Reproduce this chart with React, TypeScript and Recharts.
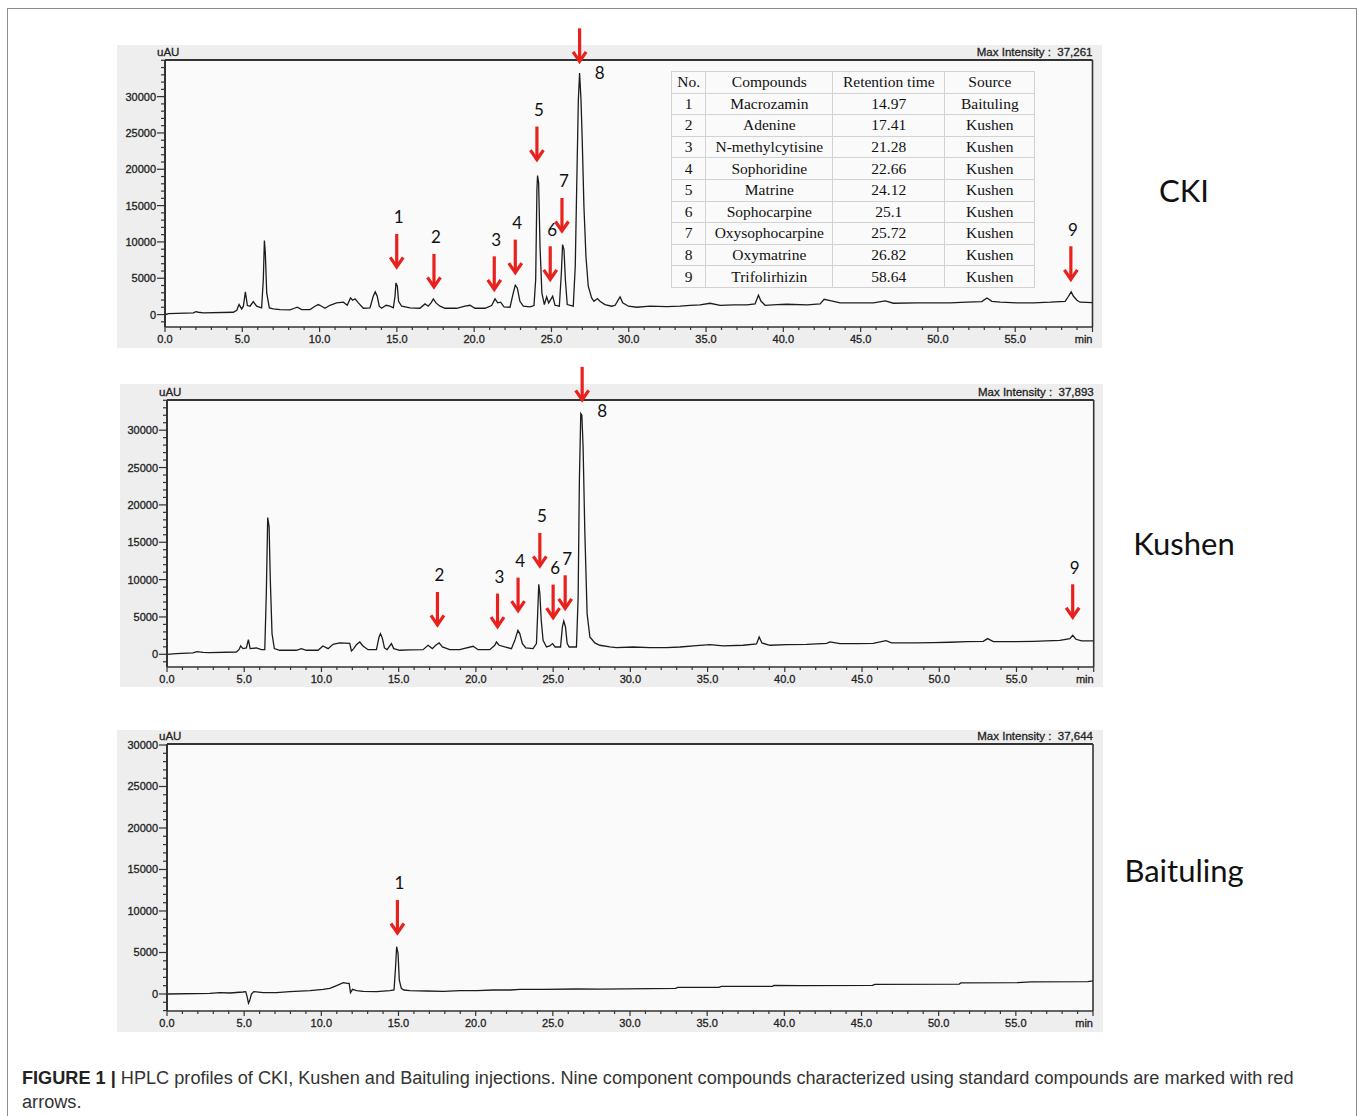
import { CartesianGrid, Line, LineChart, ReferenceDot, ReferenceLine, XAxis, YAxis } from 'recharts';

type Pt = [number, number];
type Arrow = { id: string; t: number; v: number; side?: 'right' };

// chromatogram traces, [retention time (min), intensity (uAU)]
const CKI_TRACE: Pt[] = [
  [0, -30], [0.22, 140], [1.83, 230], [2.0, 410], [2.16, 320], [2.48, 230], [4.42, 320], [4.64, 600],
  [4.79, 1380], [4.96, 780], [5.07, 1150], [5.2, 3120], [5.33, 1240], [5.5, 1150], [5.71, 1790], [5.93, 1150],
  [6.25, 920], [6.36, 4820], [6.43, 10180], [6.49, 8490], [6.58, 2980], [6.75, 920], [7.0, 780], [7.44, 690],
  [8.09, 640], [8.37, 870], [8.56, 1010], [8.84, 690], [9.38, 690], [9.7, 1150], [9.92, 1380], [10.13, 1150],
  [10.35, 870], [10.67, 1280], [11.1, 1610], [11.54, 1700], [11.79, 1280], [12.0, 2290], [12.14, 1970],
  [12.29, 2160], [12.51, 1610], [12.83, 870], [13.26, 920], [13.47, 2520], [13.6, 3120], [13.73, 2520],
  [13.86, 1150], [14.01, 870], [14.3, 1280], [14.55, 1150], [14.77, 920], [14.88, 2520], [14.94, 4360],
  [15.03, 3900], [15.11, 1830], [15.31, 1150], [15.85, 920], [16.49, 870], [16.82, 1470], [17.03, 1150],
  [17.21, 1610], [17.36, 2160], [17.53, 1610], [17.79, 1150], [18.11, 870], [18.87, 870], [19.4, 1150],
  [19.73, 1280], [20.05, 870], [20.7, 870], [21.13, 1240], [21.35, 2160], [21.52, 1610], [21.71, 1700],
  [21.93, 1060], [22.32, 1010], [22.53, 2980], [22.66, 4040], [22.79, 3670], [22.96, 1830], [23.18, 1150],
  [23.61, 1060], [23.87, 1240], [23.98, 4820], [24.06, 17200], [24.1, 19130], [24.17, 18120], [24.26, 9400],
  [24.38, 2980], [24.54, 1380], [24.69, 2430], [24.82, 1610], [24.95, 2060], [25.08, 2520], [25.23, 1280],
  [25.51, 1150], [25.64, 5730], [25.72, 9630], [25.81, 8950], [25.9, 4820], [26.02, 1380], [26.41, 1150],
  [26.54, 6650], [26.63, 17200], [26.74, 29590], [26.82, 33260], [26.91, 29590], [26.99, 24080], [27.1, 14910],
  [27.23, 8030], [27.38, 3900], [27.6, 2290], [27.75, 1830], [27.97, 2200], [28.14, 1830], [28.46, 1380],
  [28.9, 1150], [29.12, 1280], [29.33, 2060], [29.44, 2430], [29.61, 1610], [29.98, 1150], [30.52, 1010],
  [31.38, 1150], [32.46, 1100], [33.32, 1150], [33.97, 1280], [34.61, 1330], [35.26, 1560], [35.91, 1280],
  [36.77, 1330], [37.64, 1330], [38.17, 1470], [38.39, 2660], [38.56, 1830], [38.82, 1280], [39.58, 1380],
  [40.22, 1420], [41.52, 1330], [42.38, 1470], [42.64, 2110], [43.03, 1930], [43.67, 1610], [44.75, 1610],
  [45.83, 1610], [46.59, 1880], [47.12, 1560], [48.64, 1610], [49.71, 1610], [50.79, 1610], [51.87, 1700],
  [52.84, 1790], [53.17, 2290], [53.49, 1830], [54.03, 1700], [55.11, 1610], [56.19, 1610], [57.26, 1700],
  [58.23, 1830], [58.45, 2520], [58.62, 3120], [58.77, 2520], [58.99, 1970], [59.2, 1700], [60, 1650],
];

const KUSHEN_TRACE: Pt[] = [
  [0, 0], [0.6, 90], [1.68, 180], [1.94, 360], [2.33, 270], [2.76, 220], [4.49, 310], [4.66, 620],
  [4.77, 1120], [4.92, 760], [5.14, 850], [5.27, 1960], [5.38, 760], [5.79, 850], [6.11, 620], [6.33, 620],
  [6.43, 8120], [6.52, 18300], [6.61, 17050], [6.69, 9910], [6.8, 2770], [6.95, 760], [7.3, 540], [8.38, 540],
  [8.7, 760], [9.02, 540], [9.78, 540], [10.1, 1120], [10.43, 760], [10.75, 1340], [11.18, 1520], [11.83, 1470],
  [11.94, 450], [12.09, 760], [12.26, 1290], [12.48, 1650], [12.69, 1120], [13.02, 620], [13.56, 620],
  [13.73, 2320], [13.82, 2770], [13.95, 2100], [14.08, 850], [14.25, 620], [14.53, 1430], [14.68, 760],
  [15.07, 540], [15.72, 580], [16.58, 620], [16.9, 1210], [17.18, 760], [17.4, 1210], [17.62, 1520],
  [17.83, 980], [18.31, 620], [18.95, 620], [19.82, 1070], [20.14, 620], [20.9, 620], [21.22, 1210],
  [21.33, 1650], [21.5, 1210], [21.87, 980], [22.3, 760], [22.52, 1870], [22.72, 3210], [22.84, 2770],
  [23.01, 1430], [23.23, 850], [23.7, 760], [23.92, 1430], [24.0, 5450], [24.07, 9370], [24.14, 8120],
  [24.23, 4550], [24.35, 1870], [24.57, 980], [24.78, 1120], [24.96, 1430], [25.13, 980], [25.48, 980],
  [25.6, 3660], [25.69, 4460], [25.8, 3660], [25.91, 1430], [26.04, 980], [26.51, 980], [26.62, 7680],
  [26.7, 23300], [26.79, 32230], [26.86, 32010], [26.94, 27770], [27.05, 16610], [27.2, 5450], [27.38, 2320],
  [27.7, 1520], [28.02, 1210], [28.67, 980], [29.1, 890], [30.18, 980], [31.26, 890], [32.34, 890],
  [33.21, 980], [34.28, 1160], [35.15, 1290], [36.01, 1120], [37.31, 1210], [38.17, 1380], [38.34, 2320],
  [38.52, 1520], [39.04, 1210], [40.11, 1290], [41.41, 1340], [42.71, 1470], [42.93, 1650], [43.57, 1430],
  [44.65, 1430], [45.73, 1470], [46.55, 1830], [46.91, 1520], [48.53, 1520], [49.61, 1560], [50.69, 1610],
  [51.77, 1700], [52.85, 1740], [53.13, 2100], [53.5, 1700], [55.01, 1700], [56.09, 1740], [57.81, 1870],
  [58.46, 2100], [58.64, 2540], [58.85, 2010], [59.22, 1790], [60, 1790],
];

const BAITULING_TRACE: Pt[] = [
  [0, 0], [2.77, 80], [3.42, 160], [4.07, 120], [4.93, 240], [5.1, 280], [5.19, -320], [5.28, -1120],
  [5.36, -800], [5.47, 0], [5.62, 280], [6.23, 160], [7.09, 160], [7.96, 280], [9.26, 400], [10.12, 560],
  [10.55, 680], [10.99, 1000], [11.42, 1370], [11.68, 1290], [11.8, 1290], [11.89, 160], [12.02, 560],
  [12.28, 400], [12.72, 320], [13.58, 280], [14.45, 400], [14.71, 480], [14.81, 3290], [14.88, 5700],
  [14.97, 4900], [15.05, 1690], [15.18, 680], [15.35, 480], [15.74, 400], [16.83, 360], [17.91, 320],
  [18.99, 400], [20.07, 400], [21.15, 480], [22.23, 480], [22.88, 560], [24.39, 560], [26.56, 600],
  [28.08, 580], [32.95, 680], [33.1, 800], [35.76, 800], [35.91, 920], [39.23, 920], [39.33, 1040],
  [41.06, 1000], [45.71, 1040], [45.86, 1160], [51.33, 1200], [51.44, 1330], [55.12, 1370], [55.98, 1450],
  [59.66, 1490], [60, 1570],
];

// red arrows: arrow tip at (time, intensity)
const CKI_ARROWS: Arrow[] = [
  { id: '1', t: 14.99, v: 6280 }, { id: '2', t: 17.4, v: 3530 }, { id: '3', t: 21.3, v: 3200 },
  { id: '4', t: 22.66, v: 5500 }, { id: '5', t: 24.06, v: 21060 }, { id: '6', t: 24.92, v: 4580 },
  { id: '7', t: 25.68, v: 11230 }, { id: '8', t: 26.82, v: 34580, side: 'right' }, { id: '9', t: 58.6, v: 4580 },
];
const KUSHEN_ARROWS: Arrow[] = [
  { id: '2', t: 17.51, v: 3660 }, { id: '3', t: 21.4, v: 3440 }, { id: '4', t: 22.73, v: 5580 },
  { id: '5', t: 24.14, v: 11560 }, { id: '6', t: 25.0, v: 4650 }, { id: '7', t: 25.78, v: 5890 },
  { id: '8', t: 26.88, v: 33790, side: 'right' }, { id: '9', t: 58.64, v: 4690 },
];
const BAITULING_ARROWS: Arrow[] = [{ id: '1', t: 14.93, v: 7110 }];

const X_MAJOR = [0, 5, 10, 15, 20, 25, 30, 35, 40, 45, 50, 55];
const X_LABELS = ['0.0', '5.0', '10.0', '15.0', '20.0', '25.0', '30.0', '35.0', '40.0', '45.0', '50.0', '55.0'];
const Y_LABELS = [0, 5000, 10000, 15000, 20000, 25000, 30000];

const SAMPLES = ['CKI', 'Kushen', 'Baituling'];
const MAX_INTENSITY = ['37,261', '37,893', '37,644'];

const TABLE_HEAD = ['No.', 'Compounds', 'Retention time', 'Source'];
const COMPOUND_NO = ['1', '2', '3', '4', '5', '6', '7', '8', '9'];
const COMPOUNDS = ['Macrozamin', 'Adenine', 'N-methylcytisine', 'Sophoridine', 'Matrine', 'Sophocarpine', 'Oxysophocarpine', 'Oxymatrine', 'Trifolirhizin'];
const RETENTION = ['14.97', '17.41', '21.28', '22.66', '24.12', '25.1', '25.72', '26.82', '58.64'];
const SOURCES = ['Baituling', 'Kushen', 'Kushen', 'Kushen', 'Kushen', 'Kushen', 'Kushen', 'Kushen', 'Kushen'];

const SANS = '"Liberation Sans", Arial, sans-serif';
const AXIS = '#333';
const RED = '#e8211d';

const X_TICKS = Array.from({ length: 61 }, (_, i) => i);

const PANELS = [
  { trace: CKI_TRACE, arrows: CKI_ARROWS, left: 117, top: 45, width: 985, height: 303, yw: 48, xh: 21, mt: 15, mr: 9.5, yDomain: [-1710, 35040], nameY: 190 },
  { trace: KUSHEN_TRACE, arrows: KUSHEN_ARROWS, left: 120, top: 384, width: 983, height: 303, yw: 47, xh: 20, mt: 16, mr: 9.3, yDomain: [-1700, 34040], nameY: 543 },
  { trace: BAITULING_TRACE, arrows: BAITULING_ARROWS, left: 117, top: 730, width: 986, height: 302, yw: 50, xh: 21, mt: 14, mr: 10, yDomain: [-2050, 30120], nameY: 870 },
];

function XTick(props: any) {
  const { x, y, payload } = props;
  const v = payload.value as number;
  const major = v % 5 === 0;
  const idx = X_MAJOR.indexOf(v);
  const label = v === 60 ? 'min' : idx >= 0 ? X_LABELS[idx] : null;
  return (
    <g>
      <line x1={x} x2={x} y1={y} y2={y + (major ? 5 : 3)} stroke={AXIS} strokeWidth={1.2} />
      {label && (
        <text x={x} y={y + 12} textAnchor={v === 60 ? 'end' : 'middle'} dominantBaseline="central"
          fontFamily={SANS} fontSize={11} fill="#222" stroke="#222" strokeWidth={0.3}>
          {label}
        </text>
      )}
    </g>
  );
}

function YTick(props: any) {
  const { x, y, payload } = props;
  const v = payload.value as number;
  const major = Y_LABELS.includes(v);
  return (
    <g>
      <line x1={x - (major ? 8 : 4)} x2={x} y1={y} y2={y} stroke={AXIS} strokeWidth={1.2} />
      {major && (
        <text x={x - 9} y={y} textAnchor="end" dominantBaseline="central" fontFamily={SANS} fontSize={11}
          fill="#222" stroke="#222" strokeWidth={0.3}>
          {v}
        </text>
      )}
    </g>
  );
}

function arrowShape(a: Arrow) {
  return (props: any) => {
    const { cx, cy } = props;
    if (cx == null || cy == null) return <g />;
    const lx = a.side === 'right' ? cx + 20 : cx + 2;
    const ly = a.side === 'right' ? cy + 9 : cy - 52;
    return (
      <g>
        <line x1={cx} y1={cy - 35} x2={cx} y2={cy - 3} stroke={RED} strokeWidth={3.2} />
        <polyline points={`${cx - 6.5},${cy - 11.5} ${cx},${cy - 2} ${cx + 6.5},${cy - 11.5}`} fill="none" stroke={RED} strokeWidth={3.2} />
        <text x={lx} y={ly} textAnchor="middle" dominantBaseline="central" fontFamily="Lato, sans-serif" fontSize={17} fill="#111">
          {a.id}
        </text>
      </g>
    );
  };
}

function Chromatogram({ panel, index }: { panel: (typeof PANELS)[number]; index: number }) {
  const data = panel.trace.map(([t, v]) => ({ t, v }));
  const [yMin, yMax] = panel.yDomain;
  const yTicks: number[] = [];
  for (let v = Math.ceil(yMin / 1000) * 1000; v <= yMax; v += 1000) yTicks.push(v);
  const label = {
    position: 'absolute' as const, fontFamily: SANS, fontSize: 11.5, color: '#222', lineHeight: '12px',
    whiteSpace: 'nowrap' as const, WebkitTextStroke: '0.3px #222',
  };
  return (
    <div style={{ position: 'absolute', left: panel.left, top: panel.top, width: panel.width, height: panel.height, background: '#eeeeee' }}>
      <LineChart width={panel.width} height={panel.height} data={data} margin={{ top: panel.mt, right: panel.mr, bottom: 0, left: 0 }}>
        <CartesianGrid fill="#fafafa" horizontal={false} vertical={false} stroke="none" />
        <XAxis type="number" dataKey="t" domain={[0, 60]} allowDataOverflow ticks={X_TICKS} interval={0}
          height={panel.xh} tickSize={0} tickMargin={0} tickLine={false} tick={XTick}
          axisLine={{ stroke: AXIS, strokeWidth: 1.6 }} />
        <YAxis type="number" domain={[yMin, yMax]} allowDataOverflow ticks={yTicks} interval={0}
          width={panel.yw} tickSize={0} tickMargin={0} tickLine={false} tick={YTick}
          axisLine={{ stroke: AXIS, strokeWidth: 2 }} />
        <ReferenceLine y={yMax} stroke={AXIS} strokeWidth={2} />
        <ReferenceLine x={60} stroke={AXIS} strokeWidth={1.6} />
        <Line dataKey="v" type="linear" dot={false} stroke="#1c1c1c" strokeWidth={1.3} isAnimationActive={false} />
        {panel.arrows.map((a) => (
          <ReferenceDot key={a.id} x={a.t} y={a.v} r={1} ifOverflow="visible" shape={arrowShape(a)} />
        ))}
      </LineChart>
      <span style={{ ...label, left: panel.yw - 8, top: panel.mt - 14 }}>uAU</span>
      <span style={{ ...label, right: panel.mr, top: panel.mt - 14 }}>Max Intensity :&nbsp; {MAX_INTENSITY[index]}</span>
    </div>
  );
}

function CompoundTable() {
  const cell = { border: '1.5px solid #d2d2d2', padding: 0, textAlign: 'center' as const, overflow: 'hidden', whiteSpace: 'nowrap' as const };
  const widths = [34.3, 127, 112, 90];
  return (
    <table style={{
      position: 'absolute', left: 671, top: 71, width: 363.3, tableLayout: 'fixed', borderCollapse: 'collapse',
      fontFamily: '"Liberation Serif", "Times New Roman", serif', fontSize: 15.5, color: '#111', lineHeight: '20px',
    }}>
      <colgroup>
        {widths.map((w, i) => (
          <col key={i} style={{ width: w }} />
        ))}
      </colgroup>
      <tbody>
        <tr style={{ height: 21.6 }}>
          {TABLE_HEAD.map((h) => (
            <td key={h} style={cell}>{h}</td>
          ))}
        </tr>
        {COMPOUNDS.map((c, i) => (
          <tr key={c} style={{ height: 21.6 }}>
            <td style={cell}>{COMPOUND_NO[i]}</td>
            <td style={cell}>{c}</td>
            <td style={cell}>{RETENTION[i]}</td>
            <td style={cell}>{SOURCES[i]}</td>
          </tr>
        ))}
      </tbody>
    </table>
  );
}

export default function App() {
  return (
    <div style={{ position: 'absolute', left: 0, top: 0, width: 1358, height: 1116, overflow: 'hidden', background: '#fff' }}>
      <style>{'.recharts-surface{overflow:visible}'}</style>
      <div style={{ position: 'absolute', left: 7, top: 8, width: 1348, height: 1200, border: '1px solid #8c8c8c' }} />
      {PANELS.map((p, i) => (
        <Chromatogram key={SAMPLES[i]} panel={p} index={i} />
      ))}
      <CompoundTable />
      {PANELS.map((p, i) => (
        <div key={SAMPLES[i]} style={{ position: 'absolute', left: 1184, top: p.nameY, transform: 'translate(-50%, -50%)', fontFamily: 'Lato, sans-serif', fontSize: 31, lineHeight: 1, color: '#111', whiteSpace: 'nowrap' }}>
          {SAMPLES[i]}
        </div>
      ))}
      <div style={{ position: 'absolute', left: 22, top: 1066, width: 1330, fontFamily: SANS, fontSize: 18.15, lineHeight: '24px', color: '#333' }}>
        <b style={{ color: '#222' }}>FIGURE 1 |</b> HPLC profiles of CKI, Kushen and Baituling injections. Nine component compounds characterized using standard compounds are marked with red
        <br />
        arrows.
      </div>
    </div>
  );
}
